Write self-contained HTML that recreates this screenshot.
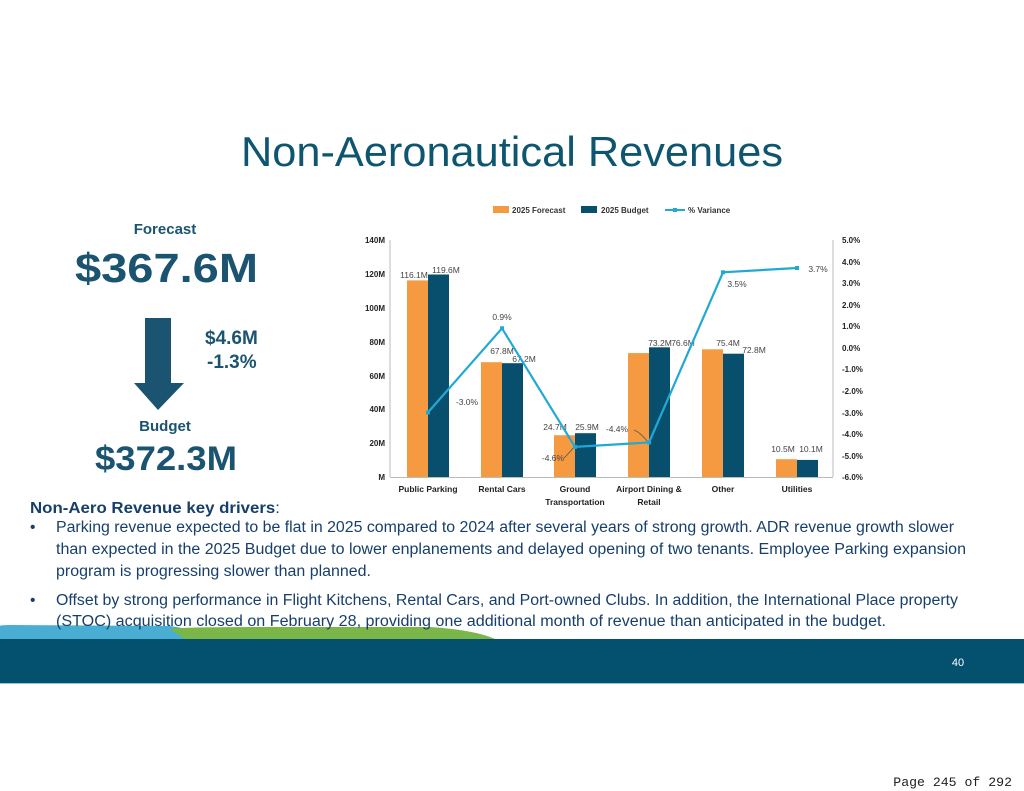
<!DOCTYPE html>
<html><head><meta charset="utf-8">
<style>html,body{margin:0;padding:0;background:#fff;}svg{display:block;}</style>
</head><body>
<svg width="1024" height="791" viewBox="0 0 1024 791" xmlns="http://www.w3.org/2000/svg" font-family="Liberation Sans, sans-serif">
<rect width="1024" height="791" fill="#fff"/>
<!-- footer -->
<path d="M0,626 Q0,625 10,625 L170,626 Q200,630 210,639 L0,639 Z" fill="#4aaed3"/>
<path d="M170,629 Q180,627 260,627 L430,627 Q475,630 495,639 L185,639 Z" fill="#7ab648"/>
<rect x="0" y="639" width="1024" height="44" fill="#03506f"/>
<line x1="0" y1="683.5" x2="1024" y2="683.5" stroke="#8fc6dc" stroke-width="1"/>
<text x="958" y="666" font-size="11" fill="#fff" text-anchor="middle">40</text>

<text x="241" y="166" font-size="42" fill="#0e5670" textLength="542" lengthAdjust="spacingAndGlyphs">Non-Aeronautical Revenues</text>

<!-- left summary -->
<g fill="#1b5470" font-weight="bold">
<text x="165" y="234" font-size="15" text-anchor="middle">Forecast</text>
<text x="75" y="282" font-size="41" textLength="183" lengthAdjust="spacingAndGlyphs">$367.6M</text>
<text x="205" y="344" font-size="19">$4.6M</text>
<text x="207" y="368" font-size="19">-1.3%</text>
<text x="165" y="431" font-size="15" text-anchor="middle">Budget</text>
<text x="95" y="470" font-size="34" textLength="142" lengthAdjust="spacingAndGlyphs">$372.3M</text>
</g>
<polygon points="145,318 171,318 171,383 184,383 158,410 134,383 145,383" fill="#1b5470"/>

<!-- legend -->
<g font-size="8" font-weight="bold" fill="#333">
<rect x="493" y="206" width="16" height="7" fill="#f59a40"/><text x="512" y="213">2025 Forecast</text>
<rect x="581" y="206" width="16" height="7" fill="#084f6e"/><text x="601" y="213">2025 Budget</text>
<line x1="665" y1="210" x2="685" y2="210" stroke="#21a9d6" stroke-width="2"/><rect x="673" y="208" width="4" height="4" fill="#21a9d6"/><text x="688" y="213">% Variance</text>
</g>

<!-- axes -->
<g font-size="8" font-weight="bold" fill="#222">
<text x="385" y="243" text-anchor="end">140M</text>
<text x="385" y="277" text-anchor="end">120M</text>
<text x="385" y="311" text-anchor="end">100M</text>
<text x="385" y="345" text-anchor="end">80M</text>
<text x="385" y="379" text-anchor="end">60M</text>
<text x="385" y="412" text-anchor="end">40M</text>
<text x="385" y="446" text-anchor="end">20M</text>
<text x="385" y="480" text-anchor="end">M</text>
<g text-anchor="start">
<text x="842" y="243">5.0%</text><text x="842" y="265">4.0%</text><text x="842" y="286">3.0%</text><text x="842" y="308">2.0%</text><text x="842" y="329">1.0%</text><text x="842" y="351">0.0%</text><text x="842" y="372">-1.0%</text><text x="842" y="394">-2.0%</text><text x="842" y="416">-3.0%</text><text x="842" y="437">-4.0%</text><text x="842" y="459">-5.0%</text><text x="842" y="480">-6.0%</text>
</g>
<g text-anchor="middle" font-size="8.5">
<text x="428" y="492">Public Parking</text>
<text x="502" y="492">Rental Cars</text>
<text x="575" y="492">Ground</text><text x="575" y="505">Transportation</text>
<text x="649" y="492">Airport Dining &amp;</text><text x="649" y="505">Retail</text>
<text x="723" y="492">Other</text>
<text x="797" y="492">Utilities</text>
</g>
</g>
<line x1="390" y1="240" x2="390" y2="477" stroke="#bbb" stroke-width="1"/>
<line x1="833" y1="240" x2="833" y2="477" stroke="#bbb" stroke-width="1"/>
<line x1="390" y1="477.5" x2="833" y2="477.5" stroke="#bbb" stroke-width="1"/>

<!-- bars -->
<g fill="#f59a40">
<rect x="407" y="280.4" width="21" height="196.6"/>
<rect x="481" y="362.2" width="21" height="114.8"/>
<rect x="554" y="435.2" width="21" height="41.8"/>
<rect x="628" y="353.1" width="21" height="123.9"/>
<rect x="702" y="349.3" width="21" height="127.7"/>
<rect x="776" y="459.2" width="21" height="17.8"/>
</g>
<g fill="#084f6e">
<rect x="428" y="274.5" width="21" height="202.5"/>
<rect x="502" y="363.2" width="21" height="113.8"/>
<rect x="575" y="433.2" width="21" height="43.8"/>
<rect x="649" y="347.3" width="21" height="129.7"/>
<rect x="723" y="353.7" width="21" height="123.3"/>
<rect x="797" y="459.9" width="21" height="17.1"/>
</g>
<g font-size="8.5" fill="#444" text-anchor="middle">
<text x="414" y="278">116.1M</text><text x="446" y="273">119.6M</text>
<text x="502" y="354">67.8M</text><text x="524" y="362">67.2M</text>
<text x="555" y="430">24.7M</text><text x="587" y="430">25.9M</text>
<text x="660" y="346">73.2M</text><text x="683" y="346">76.6M</text>
<text x="728" y="346">75.4M</text><text x="754" y="353">72.8M</text>
<text x="783" y="452">10.5M</text><text x="811" y="452">10.1M</text>
<text x="467" y="405">-3.0%</text>
<text x="502" y="320">0.9%</text>
<text x="553" y="461">-4.6%</text>
<text x="617" y="432">-4.4%</text>
<text x="737" y="287">3.5%</text>
<text x="818" y="272">3.7%</text>
</g>
<path d="M564,458 Q570,452 574,447 M634,430 Q640,432 648,442" stroke="#555" fill="none" stroke-width="0.8"/>
<polyline points="428,412.4 502,328.3 575,446.9 649,442.5 723,272.3 797,268" fill="none" stroke="#21a9d6" stroke-width="2.2"/>
<g fill="#21a9d6">
<rect x="426" y="410.4" width="4" height="4"/><rect x="500" y="326.3" width="4" height="4"/><rect x="573" y="444.9" width="4" height="4"/><rect x="647" y="440.5" width="4" height="4"/><rect x="721" y="270.3" width="4" height="4"/><rect x="795" y="266" width="4" height="4"/>
</g>

<!-- drivers text -->
<g fill="#173f6a" font-size="15.5">
<text x="30" y="513" font-weight="bold" font-size="15.5" textLength="250" lengthAdjust="spacingAndGlyphs">Non-Aero Revenue key drivers<tspan font-weight="normal">:</tspan></text>
<text x="30" y="532">•</text>
<text x="56" y="532" textLength="898" lengthAdjust="spacingAndGlyphs">Parking revenue expected to be flat in 2025 compared to 2024 after several years of strong growth. ADR revenue growth slower</text>
<text x="56" y="554" textLength="910" lengthAdjust="spacingAndGlyphs">than expected in the 2025 Budget due to lower enplanements and delayed opening of two tenants. Employee Parking expansion</text>
<text x="56" y="576" textLength="315" lengthAdjust="spacingAndGlyphs">program is progressing slower than planned.</text>
<text x="30" y="605">•</text>
<text x="56" y="605" textLength="902" lengthAdjust="spacingAndGlyphs">Offset by strong performance in Flight Kitchens, Rental Cars, and Port-owned Clubs. In addition, the International Place property</text>
<text x="56" y="626" textLength="830" lengthAdjust="spacingAndGlyphs">(STOC)  acquisition closed on February 28, providing one additional month of revenue than anticipated in the budget.</text>
</g>

<text x="1012" y="786" font-size="13.2" font-family="Liberation Mono, monospace" fill="#222" text-anchor="end">Page 245 of 292</text>
</svg>
</body></html>
